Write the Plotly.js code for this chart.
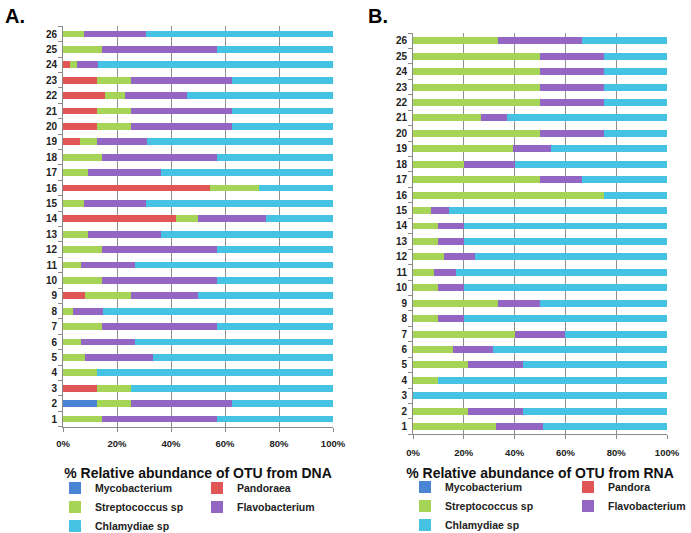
<!DOCTYPE html>
<html>
<head>
<meta charset="utf-8">
<script src="https://cdn.plot.ly/plotly-3.0.1.min.js"></script>
<style>html,body{margin:0;padding:0;background:#fff;}#chart{width:691px;height:533px;}</style>
</head>
<body>
<div id="chart"></div>
<script>
// Sample categories (1..26)
const samples = ["1","2","3","4","5","6","7","8","9","10","11","12","13","14","15","16","17","18","19","20","21","22","23","24","25","26"];
const tickVals = [0, 20, 40, 60, 80, 100];
const tickLabels = ["0%", "20%", "40%", "60%", "80%", "100%"];

// Panel A: % relative abundance of OTU from DNA (rows 1..26)
const dnaMycobacterium = [0,12.5,0,0,0,0,0,0,0,0,0,0,0,0,0,0,0,0,0,0,0,0,0,0,0,0];
const dnaPandoraea     = [0,0,12.5,0,0,0,0,0,8.3,0,0,0,0,41.7,0,54.5,0,0,6.25,12.5,12.5,15.4,12.5,2.6,0,0];
const dnaStreptococcus = [14.3,12.5,12.5,12.5,8.3,6.5,14.3,3.6,16.7,14.3,6.5,14.3,9.1,8.3,7.7,18.2,9.1,14.3,6.25,12.5,12.5,7.7,12.5,2.4,14.3,7.7];
const dnaFlavobacterium= [42.8,37.5,0,0,25,20,42.8,11.1,25,42.8,20,42.8,27.2,25,23,0,27.2,42.8,18.75,37.5,37.5,23,37.5,8,42.8,23];
const dnaChlamydiae    = [42.9,37.5,75,87.5,66.7,73.5,42.9,85.3,50,42.9,73.5,42.9,63.7,25,69.3,27.3,63.7,42.9,68.75,37.5,37.5,53.9,37.5,87,42.9,69.3];

// Panel B: % relative abundance of OTU from RNA (rows 1..26)
const rnaMycobacterium = [0,0,0,0,0,0,0,0,0,0,0,0,0,0,0,0,0,0,0,0,0,0,0,0,0,0];
const rnaPandora       = [0,0,0,0,0,0,0,0,0,0,0,0,0,0,0,0,0,0,0,0,0,0,0,0,0,0];
const rnaStreptococcus = [32.8,21.6,0,10,21.6,15.6,40,10,33.3,10,8.4,12.1,10,10,6.9,75,50,20,39.3,50,26.8,50,50,50,50,33.3];
const rnaFlavobacterium= [18.3,21.7,0,0,21.7,15.8,20,10,16.7,10,8.7,12.4,10,10,7.1,0,16.7,20,15.2,25,10.2,25,25,25,25,33.3];
const rnaChlamydiae    = [48.9,56.7,100,90,56.7,68.6,40,80,50,80,82.9,75.5,80,80,86,25,33.3,60,45.5,25,63,25,25,25,25,33.4];

const C = {myco:'#4a84d4', pand:'#e05555', strep:'#a6d456', flavo:'#9466c4', chlam:'#46c3e2'};
const FONT = 'Liberation Sans, Arial, sans-serif';

function bar(name, vals, color, xa, ya, legend) {
  return {type:'bar', orientation:'h', name:name, x:vals, y:samples, xaxis:xa, yaxis:ya,
          marker:{color:color}, legend:legend, hoverinfo:'x+name'};
}

const data = [
  bar('Mycobacterium', dnaMycobacterium, C.myco, 'x', 'y', 'legend'),
  bar('Pandoraea', dnaPandoraea, C.pand, 'x', 'y', 'legend2'),
  bar('Streptococcus sp', dnaStreptococcus, C.strep, 'x', 'y', 'legend'),
  bar('Flavobacterium', dnaFlavobacterium, C.flavo, 'x', 'y', 'legend2'),
  bar('Chlamydiae sp', dnaChlamydiae, C.chlam, 'x', 'y', 'legend'),
  bar('Mycobacterium', rnaMycobacterium, C.myco, 'x2', 'y2', 'legend3'),
  bar('Pandora', rnaPandora, C.pand, 'x2', 'y2', 'legend4'),
  bar('Streptococcus sp', rnaStreptococcus, C.strep, 'x2', 'y2', 'legend3'),
  bar('Flavobacterium', rnaFlavobacterium, C.flavo, 'x2', 'y2', 'legend4'),
  bar('Chlamydiae sp', rnaChlamydiae, C.chlam, 'x2', 'y2', 'legend3')
];

function xAxis(domain, anchor, title, standoff, labelStandoff) {
  return {domain:domain, anchor:anchor, range:[0,100], tickvals:tickVals, ticktext:tickLabels,
    showgrid:true, gridcolor:'#8f8f8f', gridwidth:1, zeroline:false,
    showline:true, linecolor:'#8a8a8a', linewidth:1, ticks:'outside', ticklen:4, tickcolor:'#8a8a8a',
    ticklabelstandoff:labelStandoff,
    tickfont:{family:FONT, size:9.5, color:'#222', weight:'bold'},
    title:{text:title, standoff:standoff, font:{family:FONT, size:14, color:'#111', weight:'bold'}},
    fixedrange:true};
}
function yAxis(domain, anchor) {
  return {domain:domain, anchor:anchor, type:'category', categoryorder:'array', categoryarray:samples,
    showgrid:false, zeroline:false, showline:true, linecolor:'#8a8a8a', linewidth:1,
    ticks:'outside', tickson:'boundaries', ticklen:4, tickcolor:'#8a8a8a', ticklabelstandoff:3,
    tickfont:{family:FONT, size:10, color:'#222', weight:'bold'}, fixedrange:true};
}
function leg(x, y) {
  return {x:x, y:y, xanchor:'left', yanchor:'top', orientation:'v', traceorder:'normal',
    bgcolor:'rgba(0,0,0,0)', borderwidth:0, itemclick:false, itemdoubleclick:false,
    font:{family:FONT, size:10.5, color:'#222', weight:'bold'}};
}

const W = 691, H = 533;
const layout = {
  width:W, height:H, margin:{l:0, r:0, t:0, b:0, autoexpand:false},
  paper_bgcolor:'#fff', plot_bgcolor:'#fff',
  barmode:'stack', bargap:0.55,
  xaxis: xAxis([63/W, 333/W], 'y', '% Relative abundance of OTU from DNA', 20, 4),
  yaxis: yAxis([1-426.7/H, 1-26.3/H], 'x'),
  xaxis2: xAxis([413/W, 667/W], 'y2', '% Relative abundance of OTU from RNA', 11, 5),
  yaxis2: yAxis([1-434.4/H, 1-33/H], 'x2'),
  legend: leg(55/W, 1-473.5/H),
  legend2: leg(197/W, 1-473.5/H),
  legend3: leg(405/W, 1-472.5/H),
  legend4: leg(568/W, 1-472.5/H),
  annotations: [
    {text:'<b>A.</b>', xref:'paper', yref:'paper', x:3/W, y:1-3/H, xanchor:'left', yanchor:'top', showarrow:false,
     font:{family:FONT, size:20, color:'#000'}},
    {text:'<b>B.</b>', xref:'paper', yref:'paper', x:366/W, y:1-3/H, xanchor:'left', yanchor:'top', showarrow:false,
     font:{family:FONT, size:20, color:'#000'}}
  ]
};

Plotly.newPlot('chart', data, layout, {displayModeBar:false, staticPlot:true});
</script>
</body>
</html>
